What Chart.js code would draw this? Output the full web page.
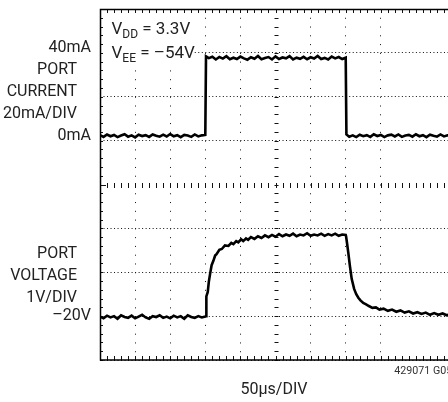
<!DOCTYPE html>
<html>
<head>
<meta charset="utf-8">
<script src="https://cdn.jsdelivr.net/npm/chart.js@4.4.1/dist/chart.umd.min.js"></script>
<style>
  html, body { margin: 0; padding: 0; background: #fff; }
  #wrap { width: 448px; height: 402px; position: relative; }
</style>
</head>
<body>
<div id="wrap"><canvas id="scopeChart"></canvas></div>
<script>
// time in microseconds (50us/DIV)
var curTime = [
  0, 5, 10, 15, 20, 25, 30, 35, 40, 45, 50, 55, 60, 65, 70, 75, 80, 85, 90, 95,
  100, 105, 110, 115, 120, 125, 130, 135, 140, 145, 150,
  151, 155, 160, 165, 170, 175, 180, 185, 190, 195, 200, 205, 210, 215, 220, 225,
  230, 235, 240, 245, 250, 255, 260, 265, 270, 275, 280, 285, 290, 295, 300, 305,
  310, 315, 320, 325, 330, 335, 340, 345, 350,
  351, 355, 360, 365, 370, 375, 380, 385, 390, 395, 400, 405, 410, 415, 420, 425,
  430, 435, 440, 445, 450, 455, 460, 465, 470, 475, 480, 485, 490, 495, 500
];
// port current, mA
var curValue = [
  0.3, -0.5, 0.6, -0.2, 0.4, -0.6, 0.1, 0.7, -0.4, 0.2, -0.7, 0.5, -0.1, 0.3, -0.5, 0.6,
  0.0, -0.4, 0.5, -0.3, 0.8, -0.2, 0.3, -0.6, 0.4, 0.1, -0.5, 0.6, -0.3, 0.2, 0.4,
  36.2, 35.4, 36.0, 34.8, 35.9, 35.2, 36.3, 34.9, 35.6, 35.0, 36.1, 35.3, 34.7, 35.8,
  35.1, 36.4, 34.9, 35.5, 35.9, 34.8, 36.2, 35.0, 35.7, 35.3, 36.3, 34.8, 35.6, 35.1,
  36.0, 34.9, 35.8, 35.2, 36.4, 35.0, 35.5, 34.8, 36.1, 35.3, 35.9, 35.0, 35.6,
  0.6, -0.4, 0.2, -0.6, 0.5, -0.2, 0.3, -0.5, 0.7, -0.1, 0.4, -0.6, 0.2, 0.5, -0.3,
  0.6, -0.5, 0.1, 0.4, -0.4, 0.7, -0.2, 0.3, -0.6, 0.5, 0.0, -0.4, 0.6, -0.3, 0.2, 0.1
];

var voltTime = [
  0, 5, 10, 15, 20, 25, 30, 35, 40, 45, 50, 55, 60, 65, 70, 75, 80, 85, 90, 95,
  100, 105, 110, 115, 120, 125, 130, 135, 140, 145, 150,
  151, 151.5, 153.5, 155, 157, 159, 161.5, 164, 166, 170, 173.5, 178, 183, 187, 190,
  194, 197, 201, 204, 208, 211, 215, 220, 225, 230, 235, 240, 245, 250, 255, 260,
  265, 270, 275, 280, 285, 290, 295, 300, 305, 310, 315, 320, 325, 330, 335, 340, 345, 350,
  350.5, 352, 353.7, 356, 358.5, 362, 365, 368, 371, 375, 379, 383, 388, 393, 398,
  404, 410, 416, 422, 428, 434, 440, 446, 452, 458, 464, 470, 476, 482, 488, 494, 500
];
// port voltage, V
var voltValue = [
  -20.01, -20.05, -19.99, -20.03, -20.00, -20.06, -19.98, -20.02, -20.04, -19.99,
  -20.05, -20.01, -19.97, -20.03, -20.06, -20.00, -20.02, -19.98, -20.04, -20.01,
  -20.05, -19.99, -20.03, -20.00, -20.06, -19.98, -20.02, -20.04, -20.00, -20.03, -20.01,
  -20.00, -19.55, -19.45, -19.22, -19.02, -18.84, -18.74, -18.62, -18.59, -18.49,
  -18.47, -18.39, -18.40, -18.33, -18.36, -18.29, -18.32, -18.25, -18.29, -18.23,
  -18.26, -18.20, -18.24, -18.18, -18.22, -18.16, -18.20, -18.15, -18.19, -18.13,
  -18.18, -18.14, -18.17, -18.12, -18.18, -18.14, -18.16, -18.11, -18.17, -18.14,
  -18.16, -18.12, -18.17, -18.13, -18.16, -18.12, -18.17, -18.14, -18.15,
  -18.18, -18.35, -18.56, -18.86, -19.15, -19.38, -19.50, -19.58, -19.64, -19.70,
  -19.73, -19.77, -19.81, -19.80, -19.85, -19.83, -19.88, -19.85, -19.90, -19.87,
  -19.92, -19.89, -19.94, -19.91, -19.95, -19.92, -19.97, -19.93, -19.97, -19.94,
  -19.98, -19.95
];

// left hand labels
var currentTicks = [40, 0];
var currentTickLabels = ['40mA', '0mA'];
var currentNameTicks = [30, 20, 10];
var currentNameLabels = ['PORT', 'CURRENT', '20mA/DIV'];
var voltageTicks = [-20];
var voltageTickLabels = ['–20V'];
var voltageNameTicks = [-18.58, -19.08, -19.58];
var voltageNameLabels = ['PORT', 'VOLTAGE', '1V/DIV'];

Chart.defaults.font.family = 'Roboto, "Liberation Sans", sans-serif';
Chart.defaults.font.size = 16;
Chart.defaults.color = '#222';

// all label axes sit on the left edge of the plot without taking room
function zeroWidth(s) {
  s.width = 0;
  s.paddingTop = 0;
  s.paddingBottom = 0;
}

function labelAxis(lo, hi, values, labels, pad) {
  return {
    position: 'left', min: lo, max: hi,
    afterBuildTicks: function (s) { s.ticks = values.map(function (v) { return { value: v }; }); },
    afterFit: zeroWidth,
    ticks: { padding: pad, autoSkip: false, callback: function (v, i) { return labels[i]; } },
    grid: { display: false, drawTicks: false },
    border: { display: false }
  };
}

function subText(c, x, y, main, sub, rest) {
  c.font = '17px Roboto';
  c.fillText(main, x, y);
  x += c.measureText(main).width;
  c.font = '12px Roboto';
  c.fillText(sub, x, y + 4);
  x += c.measureText(sub).width;
  c.font = '17px Roboto';
  c.fillText(rest, x, y);
}

// scope frame: border, minor ticks, center graticule, supply note
var scopeFrame = {
  id: 'scopeFrame',
  afterLayout: function (chart) {
    // let the zero width label axes draw their text in the left margin
    ['yV', 'yVd', 'yI', 'yId'].forEach(function (id) { chart.scales[id].left = 0; });
  },
  beforeDatasetsDraw: function (chart) {
    var c = chart.ctx, a = chart.chartArea;
    var xs = chart.scales.x, ys = chart.scales.yV;
    var cx = Math.round(xs.getPixelForValue(250)) + 0.5;
    var cy = Math.round(ys.getPixelForValue(-17)) + 0.5;
    c.save();
    c.fillStyle = '#fff';
    c.fillRect(a.left + 1, a.top + 1, 93, 58);

    c.strokeStyle = '#111';
    c.lineWidth = 1;
    c.beginPath();
    for (var t = 0; t <= xs.max; t += 10) {
      var px = Math.round(xs.getPixelForValue(t)) + 0.5;
      c.moveTo(px, a.top); c.lineTo(px, a.top + 4);
      c.moveTo(px, a.bottom); c.lineTo(px, a.bottom - 4);
      c.moveTo(px, cy - 2.5); c.lineTo(px, cy + 2.5);
    }
    for (var v = ys.min; v <= ys.max + 0.001; v += 0.2) {
      var py = Math.round(ys.getPixelForValue(v)) + 0.5;
      c.moveTo(a.left, py); c.lineTo(a.left + 3, py);
      c.moveTo(cx - 2, py); c.lineTo(cx + 2, py);
    }
    c.moveTo(a.left, cy); c.lineTo(a.left + 6, cy);
    c.stroke();

    c.strokeStyle = '#000';
    c.lineWidth = 1.5;
    c.beginPath();
    c.moveTo(a.right, a.top + 0.5);
    c.lineTo(a.left + 0.5, a.top + 0.5);
    c.lineTo(a.left + 0.5, a.bottom);
    c.lineTo(a.right, a.bottom);
    c.stroke();

    c.fillStyle = '#222';
    c.textBaseline = 'alphabetic';
    c.textAlign = 'left';
    subText(c, a.left + 11.5, a.top + 24.5, 'V', 'DD', ' = 3.3V');
    subText(c, a.left + 11.5, a.top + 48.7, 'V', 'EE', ' = –54V');
    c.restore();
  },
  afterDraw: function (chart) {
    var c = chart.ctx, a = chart.chartArea;
    c.save();
    c.fillStyle = '#333';
    c.font = '10.7px Roboto';
    c.textBaseline = 'alphabetic';
    c.fillText('429071 G05', a.left + 294.3, a.bottom + 14.3);
    c.restore();
  }
};

new Chart(document.getElementById('scopeChart'), {
  type: 'line',
  data: {
    datasets: [
      {
        label: 'Port current',
        data: curTime.map(function (t, i) { return { x: t, y: curValue[i] }; }),
        yAxisID: 'yI',
        borderColor: '#000',
        borderWidth: 2.6,
        pointRadius: 0,
        tension: 0
      },
      {
        label: 'Port voltage',
        data: voltTime.map(function (t, i) { return { x: t, y: voltValue[i] }; }),
        yAxisID: 'yV',
        borderColor: '#000',
        borderWidth: 2.6,
        pointRadius: 0,
        tension: 0
      }
    ]
  },
  options: {
    responsive: true,
    maintainAspectRatio: false,
    animation: false,
    layout: { padding: { left: 100, top: 9, right: 0, bottom: 0 } },
    plugins: { legend: { display: false }, tooltip: { enabled: false } },
    scales: {
      x: {
        type: 'linear', min: 0, max: 495.7,
        afterBuildTicks: function (s) { s.ticks = s.ticks.filter(function (t) { return t.value % 50 === 0; }); },
        afterFit: function (s) { s.paddingLeft = 0; s.paddingRight = 0; },
        ticks: { display: false, stepSize: 50 },
        grid: {
          drawTicks: false,
          lineWidth: 1,
          color: function (ctx) { return ctx.tick && ctx.tick.value === 250 ? 'rgba(0,0,0,0)' : '#111'; }
        },
        border: { display: false, dash: [1, 7.775] },
        title: { display: true, text: '50µs/DIV', color: '#222', font: { size: 16 }, padding: { top: 20.4, bottom: 2.4 } }
      },
      yV: {
        position: 'left', min: -21, max: -13,
        afterFit: zeroWidth,
        ticks: {
          stepSize: 1, padding: 9, autoSkip: false,
          callback: function (v) { var k = voltageTicks.indexOf(v); return k >= 0 ? voltageTickLabels[k] : ''; }
        },
        grid: {
          drawTicks: false,
          lineWidth: 1,
          color: function (ctx) { return ctx.tick && ctx.tick.value === -17 ? 'rgba(0,0,0,0)' : '#111'; }
        },
        border: { display: false, dash: [1, 2.51] }
      },
      yVd: labelAxis(-21, -13, voltageNameTicks, voltageNameLabels, 23),
      yI: labelAxis(-102.2, 57.8, currentTicks, currentTickLabels, 9),
      yId: labelAxis(-102.2, 57.8, currentNameTicks, currentNameLabels, 23)
    }
  },
  plugins: [scopeFrame]
});
</script>
</body>
</html>
